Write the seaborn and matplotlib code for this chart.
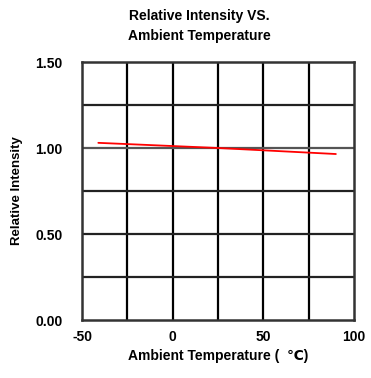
import matplotlib
matplotlib.use("Agg")
import matplotlib.pyplot as plt
import numpy as np
import pandas as pd
import seaborn as sns

# -------- data --------
temperature = [-41, 25, 90]          # Ambient temperature (C)
rel_intensity = [1.03, 1.00, 0.965]  # relative luminous intensity
x_ticks = [-50, 0, 50, 100]
y_ticks = [0.00, 0.50, 1.00, 1.50]

df = pd.DataFrame({"temp": temperature, "intensity": rel_intensity})

# -------- style --------
sns.set_style("white")
plt.rcParams["font.family"] = ["Liberation Sans", "DejaVu Sans"]
plt.rcParams["font.weight"] = "bold"
plt.rcParams["axes.unicode_minus"] = False
plt.rcParams["text.color"] = "black"
plt.rcParams["axes.labelcolor"] = "black"
plt.rcParams["xtick.color"] = "black"
plt.rcParams["ytick.color"] = "black"

fig = plt.figure(figsize=(3.71, 3.78), dpi=100)
ax = fig.add_axes([82 / 371, 1 - 320 / 378, 272 / 371, 258 / 378])

# grid every 25 degC / 0.25
for gx in np.arange(-25, 100, 25):
    ax.axvline(gx, color="black", lw=1.6, zorder=1)
for gy in np.arange(0.25, 1.5, 0.25):
    ax.axhline(gy, color="#222222" if gy != 1.0 else "#555555", lw=1.6, zorder=1)

sns.lineplot(data=df, x="temp", y="intensity", color="#ff0000", lw=1.3,
             ax=ax, zorder=3)

ax.set_xlim(-50, 100)
ax.set_ylim(0, 1.5)
ax.set_xticks(x_ticks)
ax.set_yticks(y_ticks)
ax.set_yticklabels([f"{v:.2f}" for v in y_ticks])
ax.tick_params(axis="both", length=0, labelsize=10)
ax.tick_params(axis="y", pad=14)
ax.tick_params(axis="x", pad=7)
for lab in ax.get_xticklabels() + ax.get_yticklabels():
    lab.set_fontweight("bold")

for sp in ax.spines.values():
    sp.set_color("#333333")
    sp.set_linewidth(1.8)

ax.set_xlabel("Ambient Temperature (  \u2103)", fontsize=10, fontweight="bold",
              labelpad=4)
ax.set_ylabel("Relative Intensity", fontsize=9.5, fontweight="bold", labelpad=9)

fig.text(199 / 371, 1 - 26 / 378, "Relative Intensity VS.\nAmbient Temperature",
         ha="center", va="center", fontsize=10, fontweight="bold",
         linespacing=1.5)

fig.savefig("out.png", dpi=100)
